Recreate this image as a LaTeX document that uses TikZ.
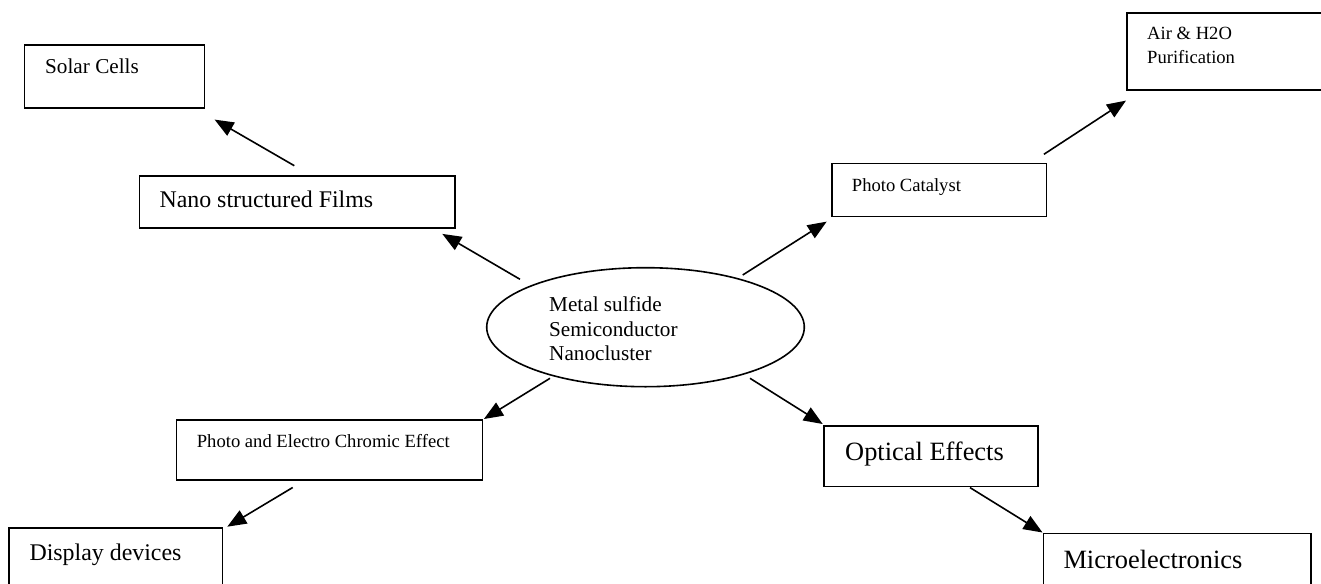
\documentclass[tikz,border=0pt]{standalone}
\usepackage{fontspec}
\setmainfont{Liberation Serif}
\usetikzlibrary{arrows.meta,shapes.geometric}
\begin{document}
\begin{tikzpicture}[x=1pt,y=-1pt,
 boxshape/.style={draw, line width=1.6pt, rectangle, inner sep=0pt, anchor=north west},
 lbl/.style={anchor=base west, inner sep=0pt},
 fs/.style={font=\fontsize{18.6}{21}\selectfont},
 fm/.style={font=\fontsize{21.2}{24}\selectfont},
 fl/.style={font=\fontsize{23.9}{27}\selectfont},
 fx/.style={font=\fontsize{26.4}{30}\selectfont},
 link/.style={line width=1.6pt, -{Triangle[length=19pt,width=15pt]}}
]
\useasboundingbox (0,0) rectangle (1321,583);
\fill[white] (0,0) rectangle (1321,583);
\clip (0,0) rectangle (1321,583);

% boxes
\node[boxshape, minimum width=180pt, minimum height=63.3pt] (solar) at (23.7,44) {};
\node[boxshape, minimum width=315.3pt, minimum height=52.3pt] (nano) at (138.7,175) {};
\node[boxshape, minimum width=214.7pt, minimum height=53pt] (pcat) at (831,162.7) {};
\node[boxshape, minimum width=204pt, minimum height=77.2pt] (air) at (1126,12.3) {};
\node[boxshape, minimum width=306pt, minimum height=59.9pt] (pel) at (175.7,419.3) {};
\node[boxshape, minimum width=214pt, minimum height=60.7pt] (opt) at (823.3,425) {};
\node[boxshape, minimum width=213.4pt, minimum height=72.7pt] (disp) at (8.3,527.3) {};
\node[boxshape, minimum width=267.3pt, minimum height=67.3pt] (micro) at (1042.7,532.7) {};
\node[draw, ellipse, line width=1.6pt, minimum width=317.6pt, minimum height=119pt, inner sep=0pt] (core) at (645.5,327.2) {};

% texts
\node[lbl, fm] (tsolar) at (45,73.5) {Solar Cells};
\node[lbl, fl] (tnano) at (159.3,207.3) {Nano structured Films};
\node[lbl, fs] (tpcat) at (851.7,191) {Photo Catalyst};
\node[lbl, fs] (tair1) at (1147,40) {Air \& H2O};
\node[lbl, fs] (tair2) at (1147,64) {Purification};
\node[lbl, fm] (tcore1) at (549,311.7) {Metal sulfide};
\node[lbl, fm] (tcore2) at (549,336.2) {Semiconductor};
\node[lbl, fm] (tcore3) at (549,360.5) {Nanocluster};
\node[lbl, fs] (tpel) at (196.7,447) {Photo and Electro Chromic Effect};
\node[lbl, fx] (topt) at (845,460) {Optical Effects};
\node[lbl, fl] (tdisp) at (29.3,560) {Display devices};
\node[lbl, fx] (tmicro) at (1063.3,568.3) {Microelectronics};

% connectors
\draw[link] ([shift={(-161.3,-9.3)}]nano.north east) -- ([shift={(9.3,10.7)}]solar.south east);
\draw[link] ([shift={(-125.5,-47.9)}]core.center) -- ([shift={(-13.3,5)}]nano.south east);
\draw[link] ([shift={(97.2,-52.2)}]core.center) -- ([shift={(-4.3,4.3)}]pcat.south west);
\draw[link] ([shift={(-3.4,-8.4)}]pcat.north east) -- ([shift={(0,9.5)}]air.south west);
\draw[link] ([shift={(-95.5,51.1)}]core.center) -- ([shift={(0.6,-0.3)}]pel.north east);
\draw[link] ([shift={(104.5,51.1)}]core.center) -- ([shift={(-0.6,-1)}]opt.north west);
\draw[link] ([shift={(117,6.7)}]pel.south west) -- ([shift={(4,-0.6)}]disp.north east);
\draw[link] ([shift={(146.7,0.3)}]opt.south west) -- ([shift={(-0.2,-0.2)}]micro.north west);
\end{tikzpicture}
\end{document}
